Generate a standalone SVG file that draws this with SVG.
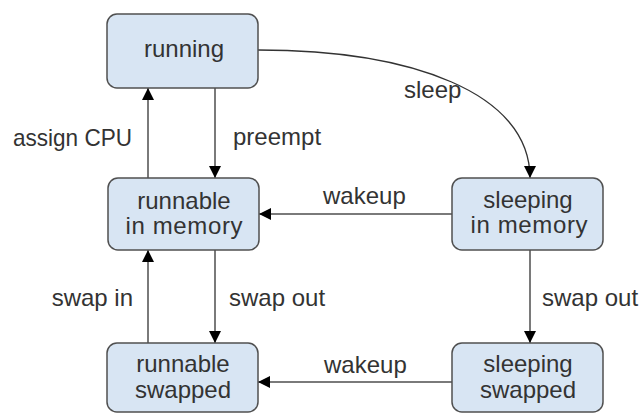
<svg xmlns="http://www.w3.org/2000/svg" width="641" height="413" viewBox="0 0 641 413">
<style>
.box{fill:#d8e5f3;stroke:#505050;stroke-width:1.5}
.t{font-family:"Liberation Sans",Arial,sans-serif;font-size:24px;fill:#333}
.m{text-anchor:middle}
.e{text-anchor:end}
.ln{fill:none;stroke:#7a7a7a;stroke-width:2}
.cv{fill:none;stroke:#333;stroke-width:1.3}
</style>
<defs>
<marker id="ah" markerUnits="userSpaceOnUse" markerWidth="13" markerHeight="12" refX="12" refY="6" orient="auto">
<path d="M0,0 L12,6 L0,12 z" fill="#000"/>
</marker>
</defs>
<rect width="641" height="413" fill="#fff"/>
<g id="connectors">
<path class="ln" d="M148,178 V88" marker-end="url(#ah)"/>
<path class="ln" d="M215,88 V178" marker-end="url(#ah)"/>
<path class="ln" d="M148,343 V250" marker-end="url(#ah)"/>
<path class="ln" d="M215,250 V343" marker-end="url(#ah)"/>
<path class="ln" d="M530,250 V343" marker-end="url(#ah)"/>
<path class="ln" d="M452,214 H259" marker-end="url(#ah)"/>
<path class="ln" d="M452,382 H258" marker-end="url(#ah)"/>
<path class="cv" d="M258,50 C410,50 530,92 530,178" marker-end="url(#ah)"/>
<text class="t" x="13" y="146" textLength="119" lengthAdjust="spacingAndGlyphs">assign CPU</text>
<text class="t" x="233" y="145">preempt</text>
<text class="t" x="404" y="98">sleep</text>
<text class="t" x="323" y="204">wakeup</text>
<text class="t e" x="133" y="306">swap in</text>
<text class="t" x="229" y="306">swap out</text>
<text class="t" x="542" y="306">swap out</text>
<text class="t" x="324" y="373">wakeup</text>
</g>
<g id="running">
<rect class="box" x="107" y="14" width="151" height="74" rx="10"/>
<text class="t m" x="184" y="57">running</text>
</g>
<g id="runnable-in-memory">
<rect class="box" x="108" y="178" width="151" height="72" rx="10"/>
<text class="t m" x="184" y="209">runnable</text>
<text class="t m" x="184" y="234" textLength="117">in memory</text>
</g>
<g id="sleeping-in-memory">
<rect class="box" x="452" y="178" width="151" height="72" rx="10"/>
<text class="t m" x="528" y="208">sleeping</text>
<text class="t m" x="529" y="233" textLength="117">in memory</text>
</g>
<g id="runnable-swapped">
<rect class="box" x="107" y="343" width="151" height="69" rx="10"/>
<text class="t m" x="183" y="372">runnable</text>
<text class="t m" x="183" y="398">swapped</text>
</g>
<g id="sleeping-swapped">
<rect class="box" x="452" y="343" width="151" height="69" rx="10"/>
<text class="t m" x="528" y="372">sleeping</text>
<text class="t m" x="528" y="398">swapped</text>
</g>
</svg>
